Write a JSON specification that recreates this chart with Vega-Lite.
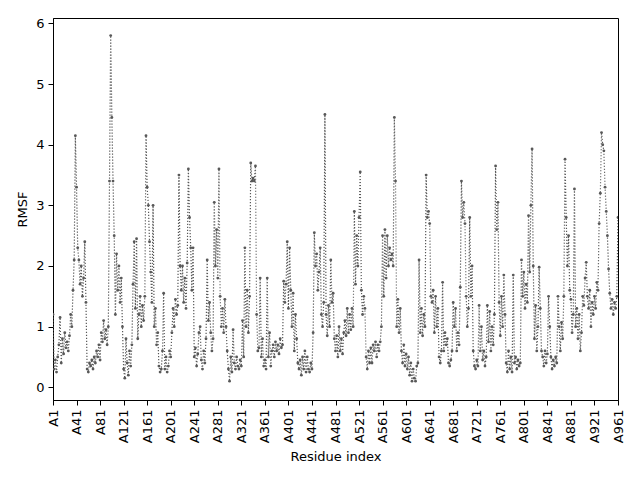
{
  "$schema": "https://vega.github.io/schema/vega-lite/v6.json",
  "width": 565,
  "height": 382,
  "autosize": "none",
  "padding": {"left": 53, "top": 18, "right": 22, "bottom": 80},
  "background": "white",
  "config": {
    "font": "DejaVu Sans",
    "view": {"stroke": "black", "strokeWidth": 1},
    "axis": {
      "grid": false,
      "domainColor": "black",
      "tickColor": "black",
      "labelColor": "black",
      "titleColor": "black",
      "labelFontSize": 13,
      "titleFontSize": 13,
      "titleFontWeight": "normal",
      "tickSize": 5,
      "labelPadding": 4
    }
  },
  "data": {
    "values": [
      {"i":0,"rmsf":1.2},{"i":2,"rmsf":0.3},{"i":4,"rmsf":0.45},{"i":6,"rmsf":0.25},{"i":8,"rmsf":0.5},{"i":10,"rmsf":0.7},{"i":12,"rmsf":1.15},{"i":14,"rmsf":0.4},{"i":16,"rmsf":0.8},{"i":18,"rmsf":0.55},
      {"i":20,"rmsf":0.9},{"i":22,"rmsf":0.65},{"i":24,"rmsf":0.75},{"i":26,"rmsf":0.6},{"i":28,"rmsf":0.85},{"i":30,"rmsf":1.2},{"i":32,"rmsf":1.0},{"i":34,"rmsf":1.6},{"i":36,"rmsf":2.1},{"i":38,"rmsf":4.15},
      {"i":40,"rmsf":3.3},{"i":42,"rmsf":2.3},{"i":44,"rmsf":2.1},{"i":46,"rmsf":1.7},{"i":48,"rmsf":2.0},{"i":50,"rmsf":1.5},{"i":52,"rmsf":1.8},{"i":54,"rmsf":2.4},{"i":56,"rmsf":1.4},{"i":58,"rmsf":0.3},
      {"i":60,"rmsf":0.25},{"i":62,"rmsf":0.4},{"i":64,"rmsf":0.35},{"i":66,"rmsf":0.45},{"i":68,"rmsf":0.3},{"i":70,"rmsf":0.5},{"i":72,"rmsf":0.4},{"i":74,"rmsf":0.6},{"i":76,"rmsf":0.5},{"i":78,"rmsf":0.7},
      {"i":80,"rmsf":0.45},{"i":82,"rmsf":0.9},{"i":84,"rmsf":0.75},{"i":86,"rmsf":1.1},{"i":88,"rmsf":0.8},{"i":90,"rmsf":0.95},{"i":92,"rmsf":0.7},{"i":94,"rmsf":1.0},{"i":96,"rmsf":3.4},{"i":98,"rmsf":5.8},
      {"i":100,"rmsf":4.45},{"i":102,"rmsf":3.4},{"i":104,"rmsf":2.5},{"i":106,"rmsf":1.2},{"i":108,"rmsf":2.2},{"i":110,"rmsf":1.6},{"i":112,"rmsf":2.0},{"i":114,"rmsf":1.4},{"i":116,"rmsf":1.8},{"i":118,"rmsf":1.0},
      {"i":120,"rmsf":0.3},{"i":122,"rmsf":0.15},{"i":124,"rmsf":0.8},{"i":126,"rmsf":0.4},{"i":128,"rmsf":0.2},{"i":130,"rmsf":0.6},{"i":132,"rmsf":0.35},{"i":134,"rmsf":0.7},{"i":136,"rmsf":1.7},{"i":138,"rmsf":2.4},
      {"i":140,"rmsf":1.3},{"i":142,"rmsf":2.45},{"i":144,"rmsf":0.8},{"i":146,"rmsf":1.2},{"i":148,"rmsf":1.5},{"i":150,"rmsf":1.0},{"i":152,"rmsf":1.35},{"i":154,"rmsf":1.1},{"i":156,"rmsf":1.5},{"i":158,"rmsf":4.15},
      {"i":160,"rmsf":3.3},{"i":162,"rmsf":3.0},{"i":164,"rmsf":2.4},{"i":166,"rmsf":1.9},{"i":168,"rmsf":1.4},{"i":170,"rmsf":3.0},{"i":172,"rmsf":1.0},{"i":174,"rmsf":1.3},{"i":176,"rmsf":0.7},{"i":178,"rmsf":0.9},
      {"i":180,"rmsf":0.35},{"i":182,"rmsf":0.25},{"i":184,"rmsf":0.3},{"i":186,"rmsf":0.6},{"i":188,"rmsf":1.55},{"i":190,"rmsf":0.3},{"i":192,"rmsf":0.5},{"i":194,"rmsf":0.25},{"i":196,"rmsf":0.35},{"i":198,"rmsf":0.6},
      {"i":200,"rmsf":0.5},{"i":202,"rmsf":0.9},{"i":204,"rmsf":1.3},{"i":206,"rmsf":1.0},{"i":208,"rmsf":1.45},{"i":210,"rmsf":1.2},{"i":212,"rmsf":1.35},{"i":214,"rmsf":3.5},{"i":216,"rmsf":2.0},{"i":218,"rmsf":1.6},
      {"i":220,"rmsf":2.0},{"i":222,"rmsf":1.4},{"i":224,"rmsf":1.8},{"i":226,"rmsf":1.3},{"i":228,"rmsf":2.05},{"i":230,"rmsf":3.6},{"i":232,"rmsf":2.8},{"i":234,"rmsf":2.3},{"i":236,"rmsf":1.6},{"i":238,"rmsf":2.3},
      {"i":240,"rmsf":0.5},{"i":242,"rmsf":0.65},{"i":244,"rmsf":0.35},{"i":246,"rmsf":0.55},{"i":248,"rmsf":0.9},{"i":250,"rmsf":1.0},{"i":252,"rmsf":0.45},{"i":254,"rmsf":0.3},{"i":256,"rmsf":0.6},{"i":258,"rmsf":0.4},
      {"i":260,"rmsf":0.8},{"i":262,"rmsf":2.1},{"i":264,"rmsf":1.1},{"i":266,"rmsf":1.4},{"i":268,"rmsf":0.9},{"i":270,"rmsf":0.6},{"i":272,"rmsf":0.8},{"i":274,"rmsf":3.05},{"i":276,"rmsf":2.0},{"i":278,"rmsf":2.6},
      {"i":280,"rmsf":1.8},{"i":282,"rmsf":3.6},{"i":284,"rmsf":1.5},{"i":286,"rmsf":1.0},{"i":288,"rmsf":1.3},{"i":290,"rmsf":0.9},{"i":292,"rmsf":1.45},{"i":294,"rmsf":1.0},{"i":296,"rmsf":0.6},{"i":298,"rmsf":0.3},
      {"i":300,"rmsf":0.1},{"i":302,"rmsf":0.5},{"i":304,"rmsf":0.25},{"i":306,"rmsf":0.95},{"i":308,"rmsf":0.4},{"i":310,"rmsf":0.3},{"i":312,"rmsf":0.5},{"i":314,"rmsf":0.35},{"i":316,"rmsf":0.3},{"i":318,"rmsf":0.45},
      {"i":320,"rmsf":0.35},{"i":322,"rmsf":1.1},{"i":324,"rmsf":0.5},{"i":326,"rmsf":2.3},{"i":328,"rmsf":1.0},{"i":330,"rmsf":1.6},{"i":332,"rmsf":0.9},{"i":334,"rmsf":1.5},{"i":336,"rmsf":3.7},{"i":338,"rmsf":3.4},
      {"i":340,"rmsf":3.45},{"i":342,"rmsf":3.4},{"i":344,"rmsf":3.65},{"i":346,"rmsf":1.2},{"i":348,"rmsf":0.6},{"i":350,"rmsf":0.65},{"i":352,"rmsf":1.8},{"i":354,"rmsf":0.5},{"i":356,"rmsf":0.8},{"i":358,"rmsf":0.35},
      {"i":360,"rmsf":0.45},{"i":362,"rmsf":0.3},{"i":364,"rmsf":1.8},{"i":366,"rmsf":0.5},{"i":368,"rmsf":0.9},{"i":370,"rmsf":0.35},{"i":372,"rmsf":0.6},{"i":374,"rmsf":0.7},{"i":376,"rmsf":0.5},{"i":378,"rmsf":0.75},
      {"i":380,"rmsf":0.6},{"i":382,"rmsf":0.7},{"i":384,"rmsf":0.55},{"i":386,"rmsf":0.8},{"i":388,"rmsf":0.65},{"i":390,"rmsf":0.7},{"i":392,"rmsf":1.75},{"i":394,"rmsf":1.4},{"i":396,"rmsf":1.7},{"i":398,"rmsf":2.4},
      {"i":400,"rmsf":1.3},{"i":402,"rmsf":2.3},{"i":404,"rmsf":1.6},{"i":406,"rmsf":1.0},{"i":408,"rmsf":1.55},{"i":410,"rmsf":0.6},{"i":412,"rmsf":1.2},{"i":414,"rmsf":0.8},{"i":416,"rmsf":0.4},{"i":418,"rmsf":0.3},
      {"i":420,"rmsf":0.45},{"i":422,"rmsf":0.2},{"i":424,"rmsf":0.5},{"i":426,"rmsf":0.3},{"i":428,"rmsf":0.6},{"i":430,"rmsf":0.25},{"i":432,"rmsf":0.5},{"i":434,"rmsf":0.3},{"i":436,"rmsf":0.25},{"i":438,"rmsf":0.4},
      {"i":440,"rmsf":0.3},{"i":442,"rmsf":0.9},{"i":444,"rmsf":2.55},{"i":446,"rmsf":2.0},{"i":448,"rmsf":2.2},{"i":450,"rmsf":1.6},{"i":452,"rmsf":1.9},{"i":454,"rmsf":2.3},{"i":456,"rmsf":1.2},{"i":458,"rmsf":1.0},
      {"i":460,"rmsf":1.4},{"i":462,"rmsf":4.5},{"i":464,"rmsf":1.2},{"i":466,"rmsf":0.85},{"i":468,"rmsf":1.35},{"i":470,"rmsf":1.0},{"i":472,"rmsf":2.1},{"i":474,"rmsf":1.4},{"i":476,"rmsf":1.55},{"i":478,"rmsf":0.8},
      {"i":480,"rmsf":0.6},{"i":482,"rmsf":0.85},{"i":484,"rmsf":0.5},{"i":486,"rmsf":1.0},{"i":488,"rmsf":0.6},{"i":490,"rmsf":0.8},{"i":492,"rmsf":0.55},{"i":494,"rmsf":0.9},{"i":496,"rmsf":1.1},{"i":498,"rmsf":0.85},
      {"i":500,"rmsf":1.3},{"i":502,"rmsf":0.9},{"i":504,"rmsf":1.2},{"i":506,"rmsf":0.95},{"i":508,"rmsf":1.3},{"i":510,"rmsf":1.0},{"i":512,"rmsf":2.9},{"i":514,"rmsf":1.7},{"i":516,"rmsf":2.5},{"i":518,"rmsf":2.0},
      {"i":520,"rmsf":2.8},{"i":522,"rmsf":3.55},{"i":524,"rmsf":1.6},{"i":526,"rmsf":1.2},{"i":528,"rmsf":1.5},{"i":530,"rmsf":1.3},{"i":532,"rmsf":0.5},{"i":534,"rmsf":0.3},{"i":536,"rmsf":0.6},{"i":538,"rmsf":0.4},
      {"i":540,"rmsf":0.65},{"i":542,"rmsf":0.4},{"i":544,"rmsf":0.7},{"i":546,"rmsf":0.6},{"i":548,"rmsf":0.75},{"i":550,"rmsf":0.5},{"i":552,"rmsf":0.7},{"i":554,"rmsf":0.6},{"i":556,"rmsf":0.75},{"i":558,"rmsf":1.0},
      {"i":560,"rmsf":2.5},{"i":562,"rmsf":1.5},{"i":564,"rmsf":2.6},{"i":566,"rmsf":1.8},{"i":568,"rmsf":2.5},{"i":570,"rmsf":2.0},{"i":572,"rmsf":2.3},{"i":574,"rmsf":2.1},{"i":576,"rmsf":2.2},{"i":578,"rmsf":2.0},
      {"i":580,"rmsf":4.45},{"i":582,"rmsf":3.4},{"i":584,"rmsf":1.0},{"i":586,"rmsf":1.45},{"i":588,"rmsf":0.9},{"i":590,"rmsf":1.3},{"i":592,"rmsf":0.6},{"i":594,"rmsf":0.4},{"i":596,"rmsf":0.7},{"i":598,"rmsf":0.35},
      {"i":600,"rmsf":0.55},{"i":602,"rmsf":0.3},{"i":604,"rmsf":0.5},{"i":606,"rmsf":0.2},{"i":608,"rmsf":0.4},{"i":610,"rmsf":0.1},{"i":612,"rmsf":0.3},{"i":614,"rmsf":0.15},{"i":616,"rmsf":0.1},{"i":618,"rmsf":0.35},
      {"i":620,"rmsf":0.4},{"i":622,"rmsf":2.1},{"i":624,"rmsf":0.9},{"i":626,"rmsf":1.3},{"i":628,"rmsf":0.85},{"i":630,"rmsf":1.2},{"i":632,"rmsf":1.0},{"i":634,"rmsf":3.5},{"i":636,"rmsf":2.8},{"i":638,"rmsf":2.9},
      {"i":640,"rmsf":2.7},{"i":642,"rmsf":1.5},{"i":644,"rmsf":1.4},{"i":646,"rmsf":1.6},{"i":648,"rmsf":0.9},{"i":650,"rmsf":1.5},{"i":652,"rmsf":1.0},{"i":654,"rmsf":1.3},{"i":656,"rmsf":0.5},{"i":658,"rmsf":0.4},
      {"i":660,"rmsf":0.6},{"i":662,"rmsf":1.73},{"i":664,"rmsf":0.6},{"i":666,"rmsf":0.9},{"i":668,"rmsf":0.7},{"i":670,"rmsf":0.8},{"i":672,"rmsf":0.4},{"i":674,"rmsf":0.35},{"i":676,"rmsf":0.45},{"i":678,"rmsf":0.6},
      {"i":680,"rmsf":1.4},{"i":682,"rmsf":1.0},{"i":684,"rmsf":1.3},{"i":686,"rmsf":0.6},{"i":688,"rmsf":0.9},{"i":690,"rmsf":0.7},{"i":692,"rmsf":1.65},{"i":694,"rmsf":3.4},{"i":696,"rmsf":2.8},{"i":698,"rmsf":3.05},
      {"i":700,"rmsf":2.7},{"i":702,"rmsf":1.5},{"i":704,"rmsf":1.0},{"i":706,"rmsf":1.3},{"i":708,"rmsf":2.8},{"i":710,"rmsf":1.5},{"i":712,"rmsf":2.0},{"i":714,"rmsf":0.6},{"i":716,"rmsf":0.35},{"i":718,"rmsf":0.3},
      {"i":720,"rmsf":0.45},{"i":722,"rmsf":0.35},{"i":724,"rmsf":1.35},{"i":726,"rmsf":0.6},{"i":728,"rmsf":1.0},{"i":730,"rmsf":0.45},{"i":732,"rmsf":0.6},{"i":734,"rmsf":0.35},{"i":736,"rmsf":0.5},{"i":738,"rmsf":1.35},
      {"i":740,"rmsf":0.75},{"i":742,"rmsf":1.25},{"i":744,"rmsf":0.6},{"i":746,"rmsf":1.0},{"i":748,"rmsf":0.7},{"i":750,"rmsf":1.2},{"i":752,"rmsf":3.65},{"i":754,"rmsf":2.6},{"i":756,"rmsf":3.05},{"i":758,"rmsf":1.4},
      {"i":760,"rmsf":0.85},{"i":762,"rmsf":1.5},{"i":764,"rmsf":1.0},{"i":766,"rmsf":1.85},{"i":768,"rmsf":1.2},{"i":770,"rmsf":0.4},{"i":772,"rmsf":0.25},{"i":774,"rmsf":0.6},{"i":776,"rmsf":0.3},{"i":778,"rmsf":0.5},
      {"i":780,"rmsf":0.25},{"i":782,"rmsf":1.85},{"i":784,"rmsf":0.4},{"i":786,"rmsf":0.5},{"i":788,"rmsf":0.3},{"i":790,"rmsf":0.45},{"i":792,"rmsf":0.35},{"i":794,"rmsf":0.4},{"i":796,"rmsf":2.1},{"i":798,"rmsf":1.5},
      {"i":800,"rmsf":1.9},{"i":802,"rmsf":1.3},{"i":804,"rmsf":1.7},{"i":806,"rmsf":1.4},{"i":808,"rmsf":2.83},{"i":810,"rmsf":1.9},{"i":812,"rmsf":3.0},{"i":814,"rmsf":3.93},{"i":816,"rmsf":2.0},{"i":818,"rmsf":0.8},
      {"i":820,"rmsf":1.35},{"i":822,"rmsf":0.6},{"i":824,"rmsf":1.0},{"i":826,"rmsf":1.98},{"i":828,"rmsf":1.3},{"i":830,"rmsf":0.6},{"i":832,"rmsf":0.5},{"i":834,"rmsf":0.35},{"i":836,"rmsf":0.6},{"i":838,"rmsf":0.4},
      {"i":840,"rmsf":0.55},{"i":842,"rmsf":1.5},{"i":844,"rmsf":1.0},{"i":846,"rmsf":0.5},{"i":848,"rmsf":0.3},{"i":850,"rmsf":0.45},{"i":852,"rmsf":0.35},{"i":854,"rmsf":0.5},{"i":856,"rmsf":0.4},{"i":858,"rmsf":1.5},
      {"i":860,"rmsf":1.0},{"i":862,"rmsf":0.6},{"i":864,"rmsf":1.07},{"i":866,"rmsf":0.8},{"i":868,"rmsf":1.5},{"i":870,"rmsf":3.76},{"i":872,"rmsf":2.8},{"i":874,"rmsf":2.0},{"i":876,"rmsf":2.5},{"i":878,"rmsf":1.6},
      {"i":880,"rmsf":1.45},{"i":882,"rmsf":0.9},{"i":884,"rmsf":1.2},{"i":886,"rmsf":3.27},{"i":888,"rmsf":1.0},{"i":890,"rmsf":1.3},{"i":892,"rmsf":0.8},{"i":894,"rmsf":1.2},{"i":896,"rmsf":0.6},{"i":898,"rmsf":0.9},
      {"i":900,"rmsf":1.5},{"i":902,"rmsf":1.35},{"i":904,"rmsf":1.8},{"i":906,"rmsf":2.06},{"i":908,"rmsf":1.5},{"i":910,"rmsf":1.3},{"i":912,"rmsf":1.6},{"i":914,"rmsf":1.0},{"i":916,"rmsf":1.4},{"i":918,"rmsf":1.2},
      {"i":920,"rmsf":1.5},{"i":922,"rmsf":1.3},{"i":924,"rmsf":1.73},{"i":926,"rmsf":1.6},{"i":928,"rmsf":2.7},{"i":930,"rmsf":3.2},{"i":932,"rmsf":4.2},{"i":934,"rmsf":4.0},{"i":936,"rmsf":3.9},{"i":938,"rmsf":3.3},
      {"i":940,"rmsf":2.9},{"i":942,"rmsf":2.5},{"i":944,"rmsf":1.95},{"i":946,"rmsf":1.55},{"i":948,"rmsf":1.3},{"i":950,"rmsf":1.45},{"i":952,"rmsf":1.2},{"i":954,"rmsf":1.4},{"i":956,"rmsf":1.3},{"i":958,"rmsf":1.5},
      {"i":960,"rmsf":2.8}
    ]
  },
  "encoding": {
    "x": {
      "field": "i",
      "type": "quantitative",
      "scale": {"domain": [0, 960], "nice": false, "zero": false},
      "axis": {
        "title": "Residue index",
        "values": [0, 40, 80, 120, 160, 200, 240, 280, 320, 360, 400, 440, 480, 520, 560, 600, 640, 680, 720, 760, 800, 840, 880, 920, 960],
        "labelExpr": "'A' + (datum.value + 1)",
        "labelAngle": -90,
        "labelFlush": false,
        "labelOverlap": false,
        "titlePadding": 8
      }
    },
    "y": {
      "field": "rmsf",
      "type": "quantitative",
      "scale": {"domain": [-0.21, 6.09], "nice": false, "zero": false},
      "axis": {
        "title": "RMSF",
        "values": [0, 1, 2, 3, 4, 5, 6],
        "titlePadding": 6
      }
    }
  },
  "layer": [
    {
      "mark": {"type": "line", "color": "#585858", "strokeWidth": 1.2, "strokeDash": [1.2, 1.8], "clip": true}
    },
    {
      "mark": {"type": "point", "shape": "circle", "filled": true, "color": "#585858", "size": 8, "opacity": 1, "clip": true}
    }
  ]
}
